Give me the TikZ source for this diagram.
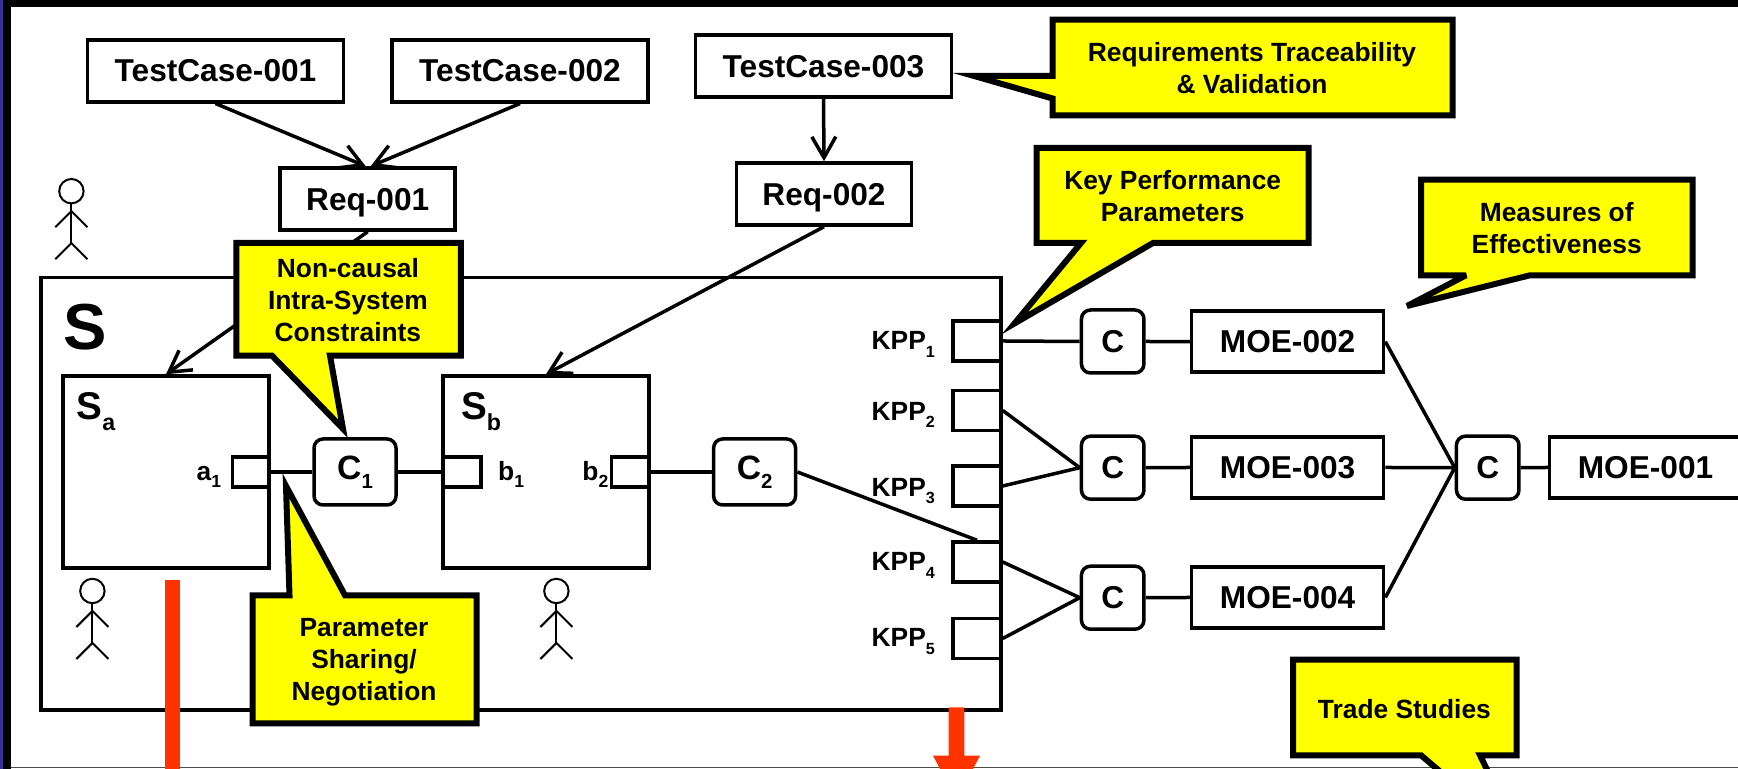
\documentclass[tikz,border=0pt]{standalone}
\usepackage{fontspec}
\setmainfont{Liberation Sans}
\usetikzlibrary{arrows.meta}
\definecolor{framedblue}{HTML}{333399}
\definecolor{flagred}{HTML}{FF3300}
\definecolor{balloonyellow}{HTML}{FFFF00}
\newcommand{\lowtxt}[2][4.6]{\raisebox{-0.27em}{\fontsize{#1}{#1}\selectfont #2}}
\tikzset{
    plain box/.style={draw, line width=0.035cm, fill=white, minimum height=0.62cm, text depth=0pt},
    testbox/.style={plain box, minimum width=2.56cm, font=\fontsize{9}{10}\selectfont\bfseries},
    reqbox/.style={plain box, minimum width=1.75cm, font=\fontsize{9}{10}\selectfont\bfseries},
    moebox/.style={plain box, minimum width=1.92cm, minimum height=0.61cm, font=\fontsize{9}{10}\selectfont\bfseries},
    constraint/.style={draw, line width=0.035cm, fill=white, rounded corners=0.09cm, minimum width=0.625cm, minimum height=0.63cm, font=\fontsize{9}{10}\selectfont\bfseries},
    bigconstraint/.style={constraint, minimum width=0.82cm, minimum height=0.66cm, font=\fontsize{9.6}{10}\selectfont\bfseries},
    port/.style={draw, line width=0.035cm, minimum height=0.30cm, inner sep=0},
    tag/.style={inner sep=0, anchor=base west, font=\fontsize{7.5}{9}\selectfont\bfseries},
    link/.style={line width=0.035cm},
    feed/.style={link, -{Straight Barb[length=0.21cm, width=0.24cm]}},
    balloon/.style={draw, line width=0.06cm, fill=balloonyellow},
    balloontext/.style={align=center, font=\fontsize{7.5}{9.1}\selectfont\bfseries},
}
\begin{document}
\begin{tikzpicture}
    \useasboundingbox (0, 0) rectangle (17.38, 7.69);
    % frame of the slide
    \fill [framedblue] (0, 0) rectangle (0.033, 7.69);
    \fill [black] (0.033, 0) rectangle (0.11, 7.69);
    \fill [black] (0.033, 7.62) rectangle (17.38, 7.69);
    \draw [black!70, line width=0.015cm] (0.11, 0.017) -- (17.38, 0.017);

    % system and its parts
    \node [draw, line width=0.035cm, minimum width=9.60cm, minimum height=4.325cm] (sys) at (5.21, 2.75) {};
    \node [draw, line width=0.035cm, minimum width=2.06cm, minimum height=1.92cm] (suba) at (1.66, 2.97) {};
    \node [draw, line width=0.035cm, minimum width=2.06cm, minimum height=1.92cm] (subb) at (5.46, 2.97) {};
    \node [port, minimum width=0.365cm] (porta) at (2.5075, 2.97) {};
    \node [port, minimum width=0.38cm] (portb) at (4.62, 2.97) {};
    \node [port, minimum width=0.375cm] (portc) at (6.3025, 2.97) {};
    \node [tag, font=\fontsize{18.5}{20}\selectfont\bfseries] (syslabel) at (0.63, 4.19) {S};
    \node [tag, font=\fontsize{11}{12}\selectfont\bfseries] (subalabel) at (0.76, 3.493) {S\lowtxt[6.6]{a}};
    \node [tag, font=\fontsize{11}{12}\selectfont\bfseries] (subblabel) at (4.605, 3.493) {S\lowtxt[6.6]{b}};
    \node [tag] (portalabel) at (1.96, 2.883) {a\lowtxt[5]{1}};
    \node [tag] (portblabel) at (4.975, 2.883) {b\lowtxt[5]{1}};
    \node [tag] (portclabel) at (5.817, 2.883) {b\lowtxt[5]{2}};

    \foreach \i/\py/\by in {1/4.28/4.19, 2/3.585/3.483, 3/2.83/2.723, 4/2.07/1.98, 5/1.305/1.22} {
        \node [port, minimum width=0.48cm, minimum height=0.40cm] (kpp\i) at (9.77, \py) {};
        \node [tag] (kpplabel\i) at (8.71, \by) {KPP\lowtxt{\i}};
    }

    % requirements and test cases
    \node [testbox] (tcone) at (2.155, 6.982) {TestCase-001};
    \node [testbox] (tctwo) at (5.20, 6.982) {TestCase-002};
    \node [testbox] (tcthree) at (8.235, 7.03) {TestCase-003};
    \node [reqbox] (reqone) at (3.677, 5.70) {Req-001};
    \node [reqbox] (reqtwo) at (8.24, 5.75) {Req-002};
    \draw [feed] (tcone.south) -- ([xshift=-0.02cm]reqone.north);
    \draw [feed] (tctwo.south) -- ([xshift=0.03cm]reqone.north);
    \draw [feed] (tcthree.south) -- (reqtwo.north);
    \draw [feed] (reqone.south) -- (suba.north);
    \draw [feed] (reqtwo.south) -- (subb.north);

    % constraints and measures
    \node [bigconstraint] (cone) at (3.55, 2.97) {C\lowtxt[5.8]{1}};
    \node [bigconstraint] (ctwo) at (7.546, 2.97) {C\lowtxt[5.8]{2}};
    \node [constraint] (cka) at (11.127, 4.275) {C};
    \node [constraint] (ckb) at (11.127, 3.013) {C};
    \node [constraint] (ckc) at (11.127, 1.713) {C};
    \node [constraint] (cmoe) at (14.877, 3.013) {C};
    \node [moebox] (moetwo) at (12.876, 4.273) {MOE-002};
    \node [moebox] (moethree) at (12.876, 3.015) {MOE-003};
    \node [moebox] (moefour) at (12.876, 1.715) {MOE-004};
    \node [moebox] (moeone) at (16.455, 3.015) {MOE-001};

    \draw [link] (porta.east) -- (cone.west);
    \draw [link] (cone.east) -- (portb.west);
    \draw [link] (portc.east) -- (ctwo.west);
    \draw [link] (ctwo.east) -- (kpp4.north);
    \draw [link] (kpp1.east) -- (cka.west);
    \draw [link] (kpp2.east) -- (ckb.west);
    \draw [link] (kpp3.east) -- (ckb.west);
    \draw [link] (kpp4.east) -- (ckc.west);
    \draw [link] (kpp5.east) -- (ckc.west);
    \draw [link] (cka.east) -- (moetwo.west);
    \draw [link] (ckb.east) -- (moethree.west);
    \draw [link] (ckc.east) -- (moefour.west);
    \draw [link] (moetwo.east) -- (cmoe.west);
    \draw [link] (moethree.east) -- (cmoe.west);
    \draw [link] (moefour.east) -- (cmoe.west);
    \draw [link] (cmoe.east) -- (moeone.west);

    % stick men
    \foreach \mx/\my in {0.714/5.778, 0.924/1.78, 5.564/1.78} {
        \begin{scope}[shift={(\mx, \my)}, line width=0.02cm]
            \draw (0, 0) circle (0.122);
            \draw (0, -0.122) -- (0, -0.52);
            \draw (-0.16, -0.36) -- (0, -0.20) -- (0.16, -0.36);
            \draw (-0.16, -0.68) -- (0, -0.52) -- (0.16, -0.68);
        \end{scope}
    }

    % red flags
    \fill [flagred] (1.646, 0) rectangle (1.803, 1.893);
    \fill [flagred] (9.486, 0.617) -- (9.643, 0.617) -- (9.643, 0.133) -- (9.80, 0.133)
        -- (9.565, -0.31) -- (9.33, 0.133) -- (9.486, 0.133) -- cycle;

    % yellow balloons
    \draw [balloon] (10.525, 7.493) -- (14.527, 7.493) -- (14.527, 6.537) -- (10.525, 6.537)
        -- (10.525, 6.705) -- (9.74, 6.93) -- (10.525, 6.93) -- cycle;
    \node [balloontext] (tracetext) at (12.52, 7.01) {Requirements Traceability\\\& Validation};
    \draw [balloon] (10.365, 6.21) -- (13.085, 6.21) -- (13.085, 5.26) -- (11.53, 5.26)
        -- (10.146, 4.456) -- (10.81, 5.26) -- (10.365, 5.26) -- cycle;
    \node [balloontext] (kpptext) at (11.727, 5.73) {Key Performance\\Parameters};
    \draw [balloon, miter limit=4] (14.21, 5.893) -- (16.926, 5.893) -- (16.926, 4.937) -- (15.30, 4.937)
        -- (14.07, 4.63) -- (14.66, 4.937) -- (14.21, 4.937) -- cycle;
    \node [balloontext] (moetext) at (15.567, 5.41) {Measures of\\Effectiveness};
    \draw [balloon] (2.364, 5.26) -- (4.608, 5.26) -- (4.608, 4.133) -- (3.30, 4.133)
        -- (3.43, 3.402) -- (2.72, 4.133) -- (2.364, 4.133) -- cycle;
    \node [balloontext] (intratext) at (3.479, 4.69) {Non-causal\\Intra-System\\Constraints};
    \draw [balloon] (2.525, 1.737) -- (2.895, 1.737) -- (2.86, 2.83) -- (3.45, 1.737)
        -- (4.765, 1.737) -- (4.765, 0.457) -- (2.525, 0.457) -- cycle;
    \node [balloontext] (sharetext) at (3.64, 1.07) {Parameter\\Sharing/\\Negotiation};
    \draw [balloon] (12.93, 1.093) -- (15.166, 1.093) -- (15.166, 0.137) -- (14.80, 0.137)
        -- (14.92, -0.11) -- (14.50, -0.11) -- (14.21, 0.137) -- (12.93, 0.137) -- cycle;
    \node [balloontext] (tradetext) at (14.044, 0.60) {Trade Studies};
\end{tikzpicture}
\end{document}
